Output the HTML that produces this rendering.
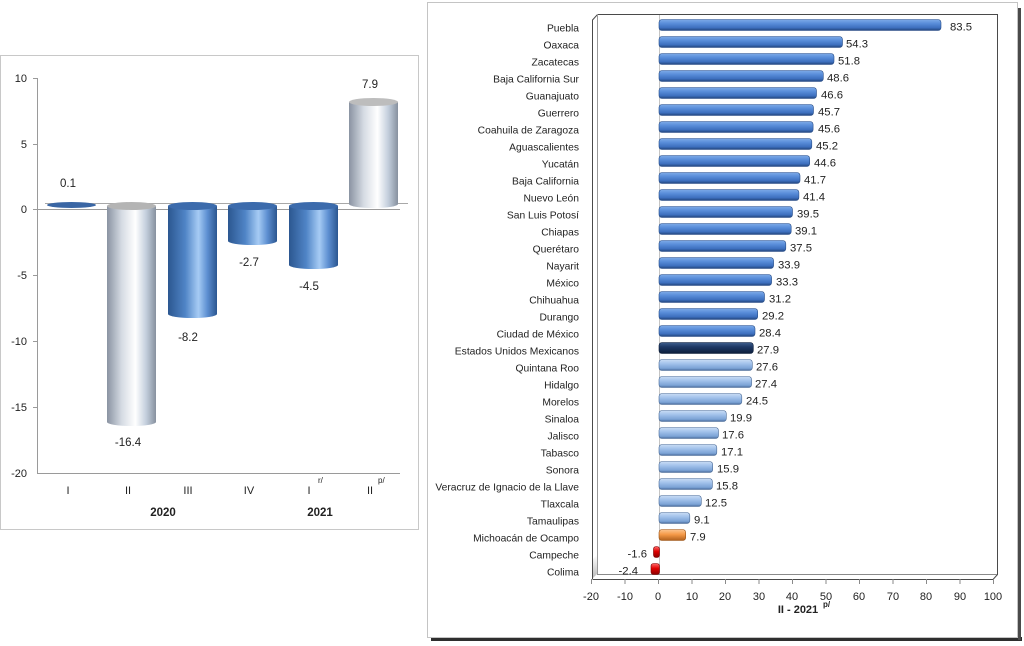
<!DOCTYPE html>
<html><head><meta charset="utf-8">
<style>
html,body{margin:0;padding:0;background:#fff;}
svg{display:block;font-family:"Liberation Sans",sans-serif;}
</style></head>
<body>
<svg width="1024" height="646" viewBox="0 0 1024 646" xmlns="http://www.w3.org/2000/svg">
<defs>
<linearGradient id="cb" x1="0" x2="1" y1="0" y2="0">
<stop offset="0" stop-color="#2C5790"/><stop offset="0.35" stop-color="#4F84C6"/><stop offset="0.62" stop-color="#A6CBF4"/><stop offset="0.8" stop-color="#5E90D2"/><stop offset="1" stop-color="#2B5690"/>
</linearGradient>
<linearGradient id="cs" x1="0" x2="1" y1="0" y2="0">
<stop offset="0" stop-color="#8A93A2"/><stop offset="0.3" stop-color="#D5DBE3"/><stop offset="0.58" stop-color="#FFFFFF"/><stop offset="0.8" stop-color="#C3CEDC"/><stop offset="1" stop-color="#87919F"/>
</linearGradient>
<linearGradient id="gm" x1="0" x2="0" y1="0" y2="1">
<stop offset="0" stop-color="#7EAAE8"/><stop offset="0.35" stop-color="#5A8EDA"/><stop offset="0.75" stop-color="#3D6FBE"/><stop offset="1" stop-color="#22457C"/>
</linearGradient>
<linearGradient id="gn" x1="0" x2="0" y1="0" y2="1">
<stop offset="0" stop-color="#3E5E8E"/><stop offset="0.4" stop-color="#1D3965"/><stop offset="1" stop-color="#0C1D3A"/>
</linearGradient>
<linearGradient id="gl" x1="0" x2="0" y1="0" y2="1">
<stop offset="0" stop-color="#CADDF5"/><stop offset="0.4" stop-color="#A0C0EA"/><stop offset="0.8" stop-color="#7BA2D5"/><stop offset="1" stop-color="#4A6C9B"/>
</linearGradient>
<linearGradient id="go" x1="0" x2="0" y1="0" y2="1">
<stop offset="0" stop-color="#FCC590"/><stop offset="0.45" stop-color="#F59A48"/><stop offset="1" stop-color="#B0601C"/>
</linearGradient>
<linearGradient id="gr" x1="0" x2="0" y1="0" y2="1">
<stop offset="0" stop-color="#FF6A6A"/><stop offset="0.45" stop-color="#E00000"/><stop offset="1" stop-color="#8A0000"/>
</linearGradient>
<linearGradient id="wall" x1="0" x2="0" y1="0" y2="1">
<stop offset="0" stop-color="#ffffff"/><stop offset="1" stop-color="#b8b8b8"/>
</linearGradient>
</defs>

<!-- LEFT PANEL -->
<rect x="0.5" y="55.5" width="418" height="474" fill="#fff" stroke="#c8c8c8"/>
<g font-size="11" fill="#222" text-anchor="end">
<text x="27" y="82">10</text>
<text x="27" y="148">5</text>
<text x="27" y="213">0</text>
<text x="27" y="279">-5</text>
<text x="27" y="345">-10</text>
<text x="27" y="411">-15</text>
<text x="27" y="477">-20</text>
</g>
<line x1="37.5" y1="78" x2="37.5" y2="473" stroke="#9a9a9a"/>
<g stroke="#9a9a9a">
<line x1="33" y1="78.5" x2="37" y2="78.5"/><line x1="33" y1="144.5" x2="37" y2="144.5"/><line x1="33" y1="209.5" x2="37" y2="209.5"/><line x1="33" y1="275.5" x2="37" y2="275.5"/><line x1="33" y1="341.5" x2="37" y2="341.5"/><line x1="33" y1="407.5" x2="37" y2="407.5"/>
</g>
<line x1="37" y1="473.5" x2="400" y2="473.5" stroke="#9a9a9a"/>
<line x1="45" y1="203.5" x2="408" y2="203.5" stroke="#a8a8a8"/>
<line x1="37" y1="209.5" x2="400" y2="209.5" stroke="#9a9a9a"/>

<!-- cylinders -->
<ellipse cx="71.5" cy="205" rx="24.5" ry="3" fill="#3A66A4"/>
<path d="M107,206 L107,422 A24.5,4 0 0 0 156,422 L156,206 Z" fill="url(#cs)"/>
<ellipse cx="131.5" cy="206" rx="24.5" ry="4" fill="#B4B4B4"/>
<path d="M168,206 L168,314 A24.5,4 0 0 0 217,314 L217,206 Z" fill="url(#cb)"/>
<ellipse cx="192.5" cy="206" rx="24.5" ry="4" fill="#3C6BAC"/>
<path d="M228,206 L228,241 A24.5,4 0 0 0 277,241 L277,206 Z" fill="url(#cb)"/>
<ellipse cx="252.5" cy="206" rx="24.5" ry="4" fill="#3C6BAC"/>
<path d="M289,206 L289,265 A24.5,4 0 0 0 338,265 L338,206 Z" fill="url(#cb)"/>
<ellipse cx="313.5" cy="206" rx="24.5" ry="4" fill="#3C6BAC"/>
<path d="M349,102 L349,204 A24.5,4 0 0 0 398,204 L398,102 Z" fill="url(#cs)"/>
<ellipse cx="373.5" cy="102" rx="24.5" ry="4" fill="#BDBDBD"/>

<g font-size="11.5" fill="#222" text-anchor="middle">
<text x="68" y="187">0.1</text>
<text x="128" y="446">-16.4</text>
<text x="188" y="341">-8.2</text>
<text x="249" y="266">-2.7</text>
<text x="309" y="290">-4.5</text>
<text x="370" y="88">7.9</text>
</g>
<g font-size="11" fill="#222" text-anchor="middle">
<text x="68" y="494">I</text>
<text x="128" y="494">II</text>
<text x="188" y="494">III</text>
<text x="249" y="494">IV</text>
<text x="309" y="494">I</text>
<text x="370" y="494">II</text>
</g>
<text x="318" y="483" font-size="8" fill="#222">r/</text>
<text x="378" y="483" font-size="8" fill="#222">p/</text>
<g font-size="11.5" font-weight="bold" fill="#222" text-anchor="middle">
<text x="163" y="516">2020</text>
<text x="320" y="516">2021</text>
</g>

<!-- RIGHT PANEL -->
<rect x="431" y="637" width="591" height="4" fill="#2e2e2e"/>
<rect x="1018" y="8" width="3" height="632" fill="#4a4a4a"/>
<rect x="427.5" y="2.5" width="590" height="635" fill="#fff" stroke="#c4c4c4"/>

<path d="M592,560 L597,555 L597,574 L592,579 Z" fill="url(#wall)"/>
<path d="M592.5,579 L592.5,20 L597.5,14.5 L997.5,14.5 L997.5,574.5 L993,579.5 L592.5,579.5" fill="none" stroke="#4a4a4a"/>
<line x1="597" y1="574.5" x2="997" y2="574.5" stroke="#8a8a8a"/>
<line x1="597.5" y1="14" x2="597.5" y2="574" stroke="#9a9a9a"/>
<line x1="659.5" y1="15" x2="659.5" y2="574" stroke="#c4c4c4"/>
<g stroke="#8a8a8a">
<line x1="591.5" y1="579" x2="591.5" y2="584"/><line x1="625" y1="579" x2="625" y2="584"/><line x1="658.5" y1="579" x2="658.5" y2="584"/><line x1="692" y1="579" x2="692" y2="584"/><line x1="725.5" y1="579" x2="725.5" y2="584"/><line x1="759" y1="579" x2="759" y2="584"/><line x1="792.5" y1="579" x2="792.5" y2="584"/><line x1="826" y1="579" x2="826" y2="584"/><line x1="859.5" y1="579" x2="859.5" y2="584"/><line x1="893" y1="579" x2="893" y2="584"/><line x1="926.5" y1="579" x2="926.5" y2="584"/><line x1="960" y1="579" x2="960" y2="584"/><line x1="993.5" y1="579" x2="993.5" y2="584"/>
</g>
<g font-size="11" fill="#222" text-anchor="middle">
<text x="591" y="600">-20</text><text x="625" y="600">-10</text><text x="658" y="600">0</text><text x="692" y="600">10</text><text x="725" y="600">20</text><text x="759" y="600">30</text><text x="792" y="600">40</text><text x="826" y="600">50</text><text x="859" y="600">60</text><text x="893" y="600">70</text><text x="926" y="600">80</text><text x="960" y="600">90</text><text x="993" y="600">100</text>
</g>
<text x="798" y="613" font-size="11" font-weight="bold" fill="#222" text-anchor="middle">II - 2021</text>
<text x="823" y="607" font-size="8" font-weight="bold" fill="#222">p/</text>

<g font-size="10.3" fill="#222" text-anchor="end">
<text x="579" y="31.5">Puebla</text>
<text x="579" y="48.5">Oaxaca</text>
<text x="579" y="65.5">Zacatecas</text>
<text x="579" y="82.5">Baja California Sur</text>
<text x="579" y="99.5">Guanajuato</text>
<text x="579" y="116.5">Guerrero</text>
<text x="579" y="133.5">Coahuila de Zaragoza</text>
<text x="579" y="150.5">Aguascalientes</text>
<text x="579" y="167.5">Yucatán</text>
<text x="579" y="184.5">Baja California</text>
<text x="579" y="201.5">Nuevo León</text>
<text x="579" y="218.5">San Luis Potosí</text>
<text x="579" y="235.5">Chiapas</text>
<text x="579" y="252.5">Querétaro</text>
<text x="579" y="269.5">Nayarit</text>
<text x="579" y="286.5">México</text>
<text x="579" y="303.5">Chihuahua</text>
<text x="579" y="320.5">Durango</text>
<text x="579" y="337.5">Ciudad de México</text>
<text x="579" y="354.5">Estados Unidos Mexicanos</text>
<text x="579" y="371.5">Quintana Roo</text>
<text x="579" y="388.5">Hidalgo</text>
<text x="579" y="405.5">Morelos</text>
<text x="579" y="422.5">Sinaloa</text>
<text x="579" y="439.5">Jalisco</text>
<text x="579" y="456.5">Tabasco</text>
<text x="579" y="473.5">Sonora</text>
<text x="579" y="490.5">Veracruz de Ignacio de la Llave</text>
<text x="579" y="507.5">Tlaxcala</text>
<text x="579" y="524.5">Tamaulipas</text>
<text x="579" y="541.5">Michoacán de Ocampo</text>
<text x="579" y="558.5">Campeche</text>
<text x="579" y="575.5">Colima</text>
</g>

<g stroke-width="0.6">
<rect x="659" y="19.5" width="282" height="11" rx="3" fill="url(#gm)" stroke="#2A4F88"/>
<rect x="659" y="36.5" width="183.5" height="11" rx="3" fill="url(#gm)" stroke="#2A4F88"/>
<rect x="659" y="53.5" width="175" height="11" rx="3" fill="url(#gm)" stroke="#2A4F88"/>
<rect x="659" y="70.5" width="164.3" height="11" rx="3" fill="url(#gm)" stroke="#2A4F88"/>
<rect x="659" y="87.5" width="157.5" height="11" rx="3" fill="url(#gm)" stroke="#2A4F88"/>
<rect x="659" y="104.5" width="154.5" height="11" rx="3" fill="url(#gm)" stroke="#2A4F88"/>
<rect x="659" y="121.5" width="154.1" height="11" rx="3" fill="url(#gm)" stroke="#2A4F88"/>
<rect x="659" y="138.5" width="152.8" height="11" rx="3" fill="url(#gm)" stroke="#2A4F88"/>
<rect x="659" y="155.5" width="150.7" height="11" rx="3" fill="url(#gm)" stroke="#2A4F88"/>
<rect x="659" y="172.5" width="141" height="11" rx="3" fill="url(#gm)" stroke="#2A4F88"/>
<rect x="659" y="189.5" width="139.9" height="11" rx="3" fill="url(#gm)" stroke="#2A4F88"/>
<rect x="659" y="206.5" width="133.5" height="11" rx="3" fill="url(#gm)" stroke="#2A4F88"/>
<rect x="659" y="223.5" width="132.2" height="11" rx="3" fill="url(#gm)" stroke="#2A4F88"/>
<rect x="659" y="240.5" width="126.8" height="11" rx="3" fill="url(#gm)" stroke="#2A4F88"/>
<rect x="659" y="257.5" width="114.6" height="11" rx="3" fill="url(#gm)" stroke="#2A4F88"/>
<rect x="659" y="274.5" width="112.6" height="11" rx="3" fill="url(#gm)" stroke="#2A4F88"/>
<rect x="659" y="291.5" width="105.5" height="11" rx="3" fill="url(#gm)" stroke="#2A4F88"/>
<rect x="659" y="308.5" width="98.7" height="11" rx="3" fill="url(#gm)" stroke="#2A4F88"/>
<rect x="659" y="325.5" width="96" height="11" rx="3" fill="url(#gm)" stroke="#2A4F88"/>
<rect x="659" y="342.5" width="94.3" height="11" rx="3" fill="url(#gn)" stroke="#0C1C36"/>
<rect x="659" y="359.5" width="93.3" height="11" rx="3" fill="url(#gl)" stroke="#4A6A96"/>
<rect x="659" y="376.5" width="92.6" height="11" rx="3" fill="url(#gl)" stroke="#4A6A96"/>
<rect x="659" y="393.5" width="82.8" height="11" rx="3" fill="url(#gl)" stroke="#4A6A96"/>
<rect x="659" y="410.5" width="67.3" height="11" rx="3" fill="url(#gl)" stroke="#4A6A96"/>
<rect x="659" y="427.5" width="59.5" height="11" rx="3" fill="url(#gl)" stroke="#4A6A96"/>
<rect x="659" y="444.5" width="57.8" height="11" rx="3" fill="url(#gl)" stroke="#4A6A96"/>
<rect x="659" y="461.5" width="53.7" height="11" rx="3" fill="url(#gl)" stroke="#4A6A96"/>
<rect x="659" y="478.5" width="53.4" height="11" rx="3" fill="url(#gl)" stroke="#4A6A96"/>
<rect x="659" y="495.5" width="42.3" height="11" rx="3" fill="url(#gl)" stroke="#4A6A96"/>
<rect x="659" y="512.5" width="30.8" height="11" rx="3" fill="url(#gl)" stroke="#4A6A96"/>
<rect x="659" y="529.5" width="26.7" height="11" rx="3" fill="url(#go)" stroke="#9A5418"/>
<rect x="653.5" y="546.5" width="6" height="11" rx="2.5" fill="url(#gr)" stroke="#7A0000"/>
<rect x="651" y="563.5" width="8.5" height="11" rx="2.5" fill="url(#gr)" stroke="#7A0000"/>
</g>

<g font-size="11.3" fill="#222">
<text x="950" y="30.5">83.5</text>
<text x="846" y="47.5">54.3</text>
<text x="838" y="64.5">51.8</text>
<text x="827" y="81.5">48.6</text>
<text x="821" y="98.5">46.6</text>
<text x="818" y="115.5">45.7</text>
<text x="818" y="132.5">45.6</text>
<text x="816" y="149.5">45.2</text>
<text x="814" y="166.5">44.6</text>
<text x="804" y="183.5">41.7</text>
<text x="803" y="200.5">41.4</text>
<text x="797" y="217.5">39.5</text>
<text x="795" y="234.5">39.1</text>
<text x="790" y="251.5">37.5</text>
<text x="778" y="268.5">33.9</text>
<text x="776" y="285.5">33.3</text>
<text x="769" y="302.5">31.2</text>
<text x="762" y="319.5">29.2</text>
<text x="759" y="336.5">28.4</text>
<text x="757" y="353.5">27.9</text>
<text x="756" y="370.5">27.6</text>
<text x="755" y="387.5">27.4</text>
<text x="746" y="404.5">24.5</text>
<text x="730" y="421.5">19.9</text>
<text x="722" y="438.5">17.6</text>
<text x="721" y="455.5">17.1</text>
<text x="717" y="472.5">15.9</text>
<text x="716" y="489.5">15.8</text>
<text x="705" y="506.5">12.5</text>
<text x="694" y="523.5">9.1</text>
<text x="690" y="540.5">7.9</text>
<text x="647" y="557.5" text-anchor="end">-1.6</text>
<text x="638" y="574.5" text-anchor="end">-2.4</text>
</g>
</svg>
</body></html>
